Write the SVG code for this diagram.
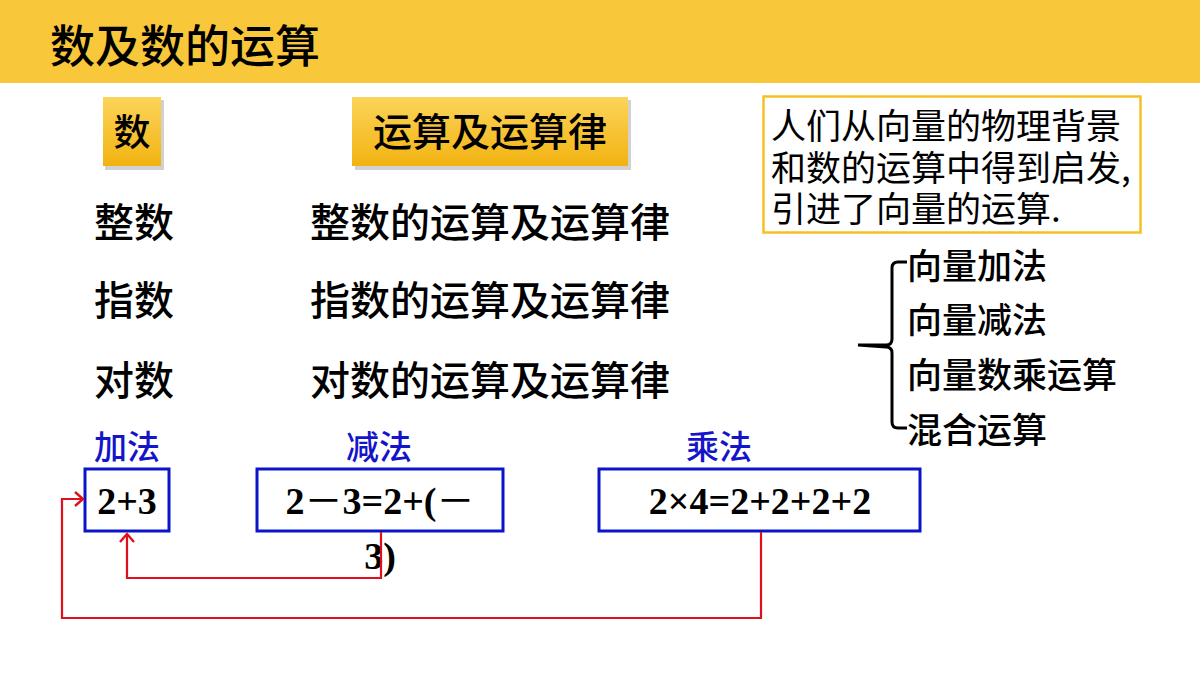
<svg xmlns="http://www.w3.org/2000/svg" width="1200" height="675" viewBox="0 0 1200 675">
<style>
.cjk{font-family:"Noto Sans CJK SC","Liberation Sans",sans-serif;fill:#000;font-weight:500}
.row{font-size:40px}
.blue{font-size:33px;fill:#1414C8;text-anchor:middle}
.box{fill:#fff;stroke:#0A14C8;stroke-width:3}
.expr{font-family:"Liberation Serif","Noto Sans CJK SC",serif;font-weight:bold;font-size:38px;text-anchor:middle;fill:#000}
.conn{fill:none;stroke:#E0101A;stroke-width:2.2}
.ybox{fill:url(#yg)}
.shadow{fill:#000;opacity:0.18}
.brace-t{font-size:35px}
.note{font-size:35px;font-weight:normal}
</style>
<defs>
<linearGradient id="yg" x1="0" y1="0" x2="0" y2="1">
<stop offset="0" stop-color="#FCD45A"/>
<stop offset="1" stop-color="#F2B311"/>
</linearGradient>
<marker id="arr" markerUnits="userSpaceOnUse" markerWidth="20" markerHeight="20" refX="10" refY="10" orient="auto" viewBox="0 0 20 20">
<polyline points="2,3 10,10 2,17" fill="none" stroke="#E0101A" stroke-width="2.4"/>
</marker>
</defs>
<rect x="0" y="0" width="1200" height="83" fill="#F9C73A"/>
<text class="cjk" x="50" y="63" font-size="45" font-weight="bold">数及数的运算</text>

<g id="node-shu">
<rect class="shadow" x="105" y="100" width="59" height="70"/>
<rect class="ybox" x="103" y="97" width="58" height="69"/>
<text class="cjk" x="132" y="146" font-size="37" text-anchor="middle">数</text>
</g>
<g id="node-yunsuan">
<rect class="shadow" x="355" y="100" width="276" height="70"/>
<rect class="ybox" x="352" y="97" width="276" height="69"/>
<text class="cjk" x="490" y="146" font-size="39" text-anchor="middle">运算及运算律</text>
</g>

<g id="node-zhengshu"><text class="cjk row" x="94" y="237">整数</text></g>
<g id="node-zhengshu-op"><text class="cjk row" x="310" y="237">整数的运算及运算律</text></g>
<g id="node-zhishu"><text class="cjk row" x="94" y="315">指数</text></g>
<g id="node-zhishu-op"><text class="cjk row" x="310" y="315">指数的运算及运算律</text></g>
<g id="node-duishu"><text class="cjk row" x="94" y="395">对数</text></g>
<g id="node-duishu-op"><text class="cjk row" x="310" y="395">对数的运算及运算律</text></g>

<g id="node-note">
<rect x="763.5" y="96.5" width="377" height="136" fill="#fff" stroke="#F5C024" stroke-width="2.5"/>
<text class="cjk note"><tspan x="771" y="139">人们从向量的物理背景</tspan><tspan x="771" y="181">和数的运算中得到启发,</tspan><tspan x="771" y="222">引进了向量的运算.</tspan></text>
</g>

<g id="node-brace">
<path d="M907,262 H898 Q892,262 892,268 V339 Q892,345 886,345 L858,345 L886,347 Q892,347 892,353 V422 Q892,428 898,428 H907" fill="none" stroke="#000" stroke-width="3"/>
</g>
<g id="node-vec-list">
<text class="cjk brace-t" x="907" y="279">向量加法</text>
<text class="cjk brace-t" x="907" y="333">向量减法</text>
<text class="cjk brace-t" x="907" y="388">向量数乘运算</text>
<text class="cjk brace-t" x="907" y="443">混合运算</text>
</g>

<g id="node-add">
<text class="cjk blue" x="127" y="459">加法</text>
<rect class="box" x="85" y="469" width="84" height="62"/>
<text class="expr" x="127" y="514">2+3</text>
</g>
<g id="node-sub">
<text class="cjk blue" x="379" y="459">减法</text>
<rect class="box" x="257" y="469" width="246" height="62"/>
<text class="expr" x="380" y="514">2<tspan font-family="Noto Sans CJK SC" font-weight="normal">－</tspan>3=2+(<tspan font-family="Noto Sans CJK SC" font-weight="normal">－</tspan></text>
<text class="expr" x="380" y="569">3)</text>
</g>
<g id="node-mul">
<text class="cjk blue" x="719" y="459">乘法</text>
<rect class="box" x="599" y="469" width="321" height="62"/>
<text class="expr" x="760" y="514" font-size="39">2×4=2+2+2+2</text>
</g>

<g id="connectors">
<path class="conn" d="M381,532 V578 H127 V534" marker-end="url(#arr)"/>
<path class="conn" d="M761,532 V618 H62 V499 H83" marker-end="url(#arr)"/>
</g>
</svg>
